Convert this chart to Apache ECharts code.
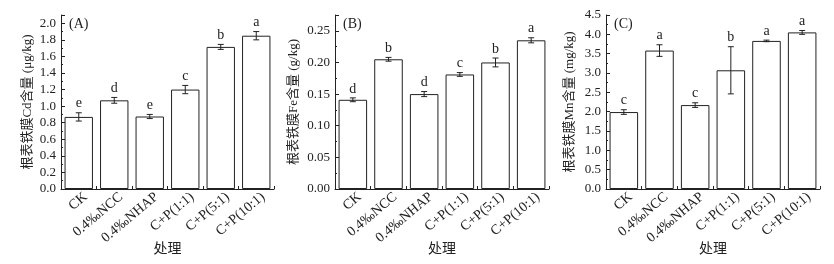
<!DOCTYPE html>
<html><head><meta charset="utf-8">
<script src="https://cdn.jsdelivr.net/npm/echarts@6/dist/echarts.min.js"></script>
<style>html,body{margin:0;padding:0;background:#fff}#c{width:834px;height:264px}</style>
</head><body><div id="c"></div>
<script>
var categories = ['CK', '0.4‰NCC', '0.4‰NHAP', 'C+P(1:1)', 'C+P(5:1)', 'C+P(10:1)'];
var cdMean = [0.87, 1.07, 0.875, 1.20, 1.715, 1.85];
var cdErr = [0.05, 0.035, 0.025, 0.05, 0.03, 0.05];
var cdLetters = ['e', 'd', 'e', 'c', 'b', 'a'];
var feMean = [0.141, 0.205, 0.150, 0.181, 0.200, 0.235];
var feErr = [0.003, 0.003, 0.004, 0.003, 0.007, 0.004];
var feLetters = ['d', 'b', 'd', 'c', 'b', 'a'];
var mnMean = [1.99, 3.58, 2.17, 3.07, 3.83, 4.05];
var mnErr = [0.06, 0.15, 0.06, 0.61, 0.02, 0.05];
var mnLetters = ['c', 'a', 'c', 'b', 'a', 'a'];
var yNames = ['根表铁膜Cd含量 (μg/kg)', '根表铁膜Fe含量 (g/kg)', '根表铁膜Mn含量 (mg/kg)'];
var panelLabels = ['(A)', '(B)', '(C)'];
var xName = '处理';

var serif = '"Liberation Serif","Times New Roman","Noto Sans CJK SC",serif';
var grids = [
  {left: 61, top: 15, width: 213, height: 174, outerBoundsMode: 'none', containLabel: false},
  {left: 335, top: 15, width: 214, height: 174, outerBoundsMode: 'none', containLabel: false},
  {left: 606, top: 15, width: 214, height: 174, outerBoundsMode: 'none', containLabel: false}
];
var yCfg = [
  {max: 2.1, interval: 0.2, dec: 1, gap: 27, showMax: false},
  {max: 0.275, interval: 0.05, dec: 2, gap: 35, showMax: false},
  {max: 4.5, interval: 0.5, dec: 1, gap: 30, showMax: true}
];
var means = [cdMean, feMean, mnMean];
var errs = [cdErr, feErr, mnErr];
var letters = [cdLetters, feLetters, mnLetters];

var xAxes = [], yAxes = [], series = [], titles = [];
for (var k = 0; k < 3; k++) {
  xAxes.push({
    type: 'category', gridIndex: k, data: categories,
    name: xName, nameLocation: 'middle', nameGap: 52, nameMoveOverlap: false,
    nameTextStyle: {fontFamily: '"Noto Sans CJK SC",sans-serif', fontSize: 14, color: '#222'},
    axisLine: {lineStyle: {color: '#222', width: 1}},
    axisTick: {show: true, inside: true, length: 3, lineStyle: {color: '#222'}},
    axisLabel: {interval: 0, rotate: 40, fontFamily: serif, fontSize: 14, color: '#222', margin: 12, padding: [0, -9, 0, 0]}
  });
  (function (cfg) {
    yAxes.push({
      type: 'value', gridIndex: k, min: 0, max: cfg.max, interval: cfg.interval,
      name: yNames[k], nameLocation: 'middle', nameGap: cfg.gap,
      nameTextStyle: {fontFamily: '"Liberation Serif","Noto Sans CJK SC",serif', fontSize: 13, color: '#222'},
      axisLine: {show: true, lineStyle: {color: '#222', width: 1}},
      axisTick: {show: true, inside: true, length: 4, lineStyle: {color: '#222'}},
      minorTick: {show: true, splitNumber: 2, length: 2, lineStyle: {color: '#222'}},
      splitLine: {show: false},
      axisLabel: {
        showMaxLabel: cfg.showMax, fontFamily: serif, fontSize: 13, color: '#222', margin: 5,
        formatter: function (v) { return v.toFixed(cfg.dec); }
      }
    });
  })(yCfg[k]);
  series.push({
    type: 'bar', xAxisIndex: k, yAxisIndex: k, data: means[k],
    barCategoryGap: '20%',
    itemStyle: {color: '#fff', borderColor: '#222', borderWidth: 1},
    silent: true
  });
  var cdata = means[k].map(function (m, i) { return [i, m, errs[k][i]]; });
  (function (lt) {
    series.push({
      type: 'custom', xAxisIndex: k, yAxisIndex: k, data: cdata, z: 5,
      encode: {x: 0, y: 1},
      renderItem: function (params, api) {
        var i = api.value(0), m = api.value(1), e = api.value(2);
        var top = api.coord([i, m + e]);
        var bot = api.coord([i, m - e]);
        var x = top[0], cw = 3;
        return {
          type: 'group',
          children: [
            {type: 'line', shape: {x1: x, y1: top[1], x2: x, y2: bot[1]}, style: {stroke: '#222', lineWidth: 1}},
            {type: 'line', shape: {x1: x - cw, y1: top[1], x2: x + cw, y2: top[1]}, style: {stroke: '#222', lineWidth: 1}},
            {type: 'line', shape: {x1: x - cw, y1: bot[1], x2: x + cw, y2: bot[1]}, style: {stroke: '#222', lineWidth: 1}},
            {type: 'text', x: x, y: top[1] - 2, style: {text: lt[params.dataIndex], fill: '#222', font: '14px ' + serif, align: 'center', verticalAlign: 'bottom'}}
          ]
        };
      }
    });
  })(letters[k]);
  titles.push({
    text: panelLabels[k], left: grids[k].left + 8, top: 17, padding: 0,
    textStyle: {fontFamily: serif, fontSize: 14, fontWeight: 'normal', color: '#222'}
  });
}

var chart = echarts.init(document.getElementById('c'));
chart.setOption({
  animation: false,
  backgroundColor: '#fff',
  title: titles,
  grid: grids,
  xAxis: xAxes,
  yAxis: yAxes,
  series: series
});
</script>
</body></html>
